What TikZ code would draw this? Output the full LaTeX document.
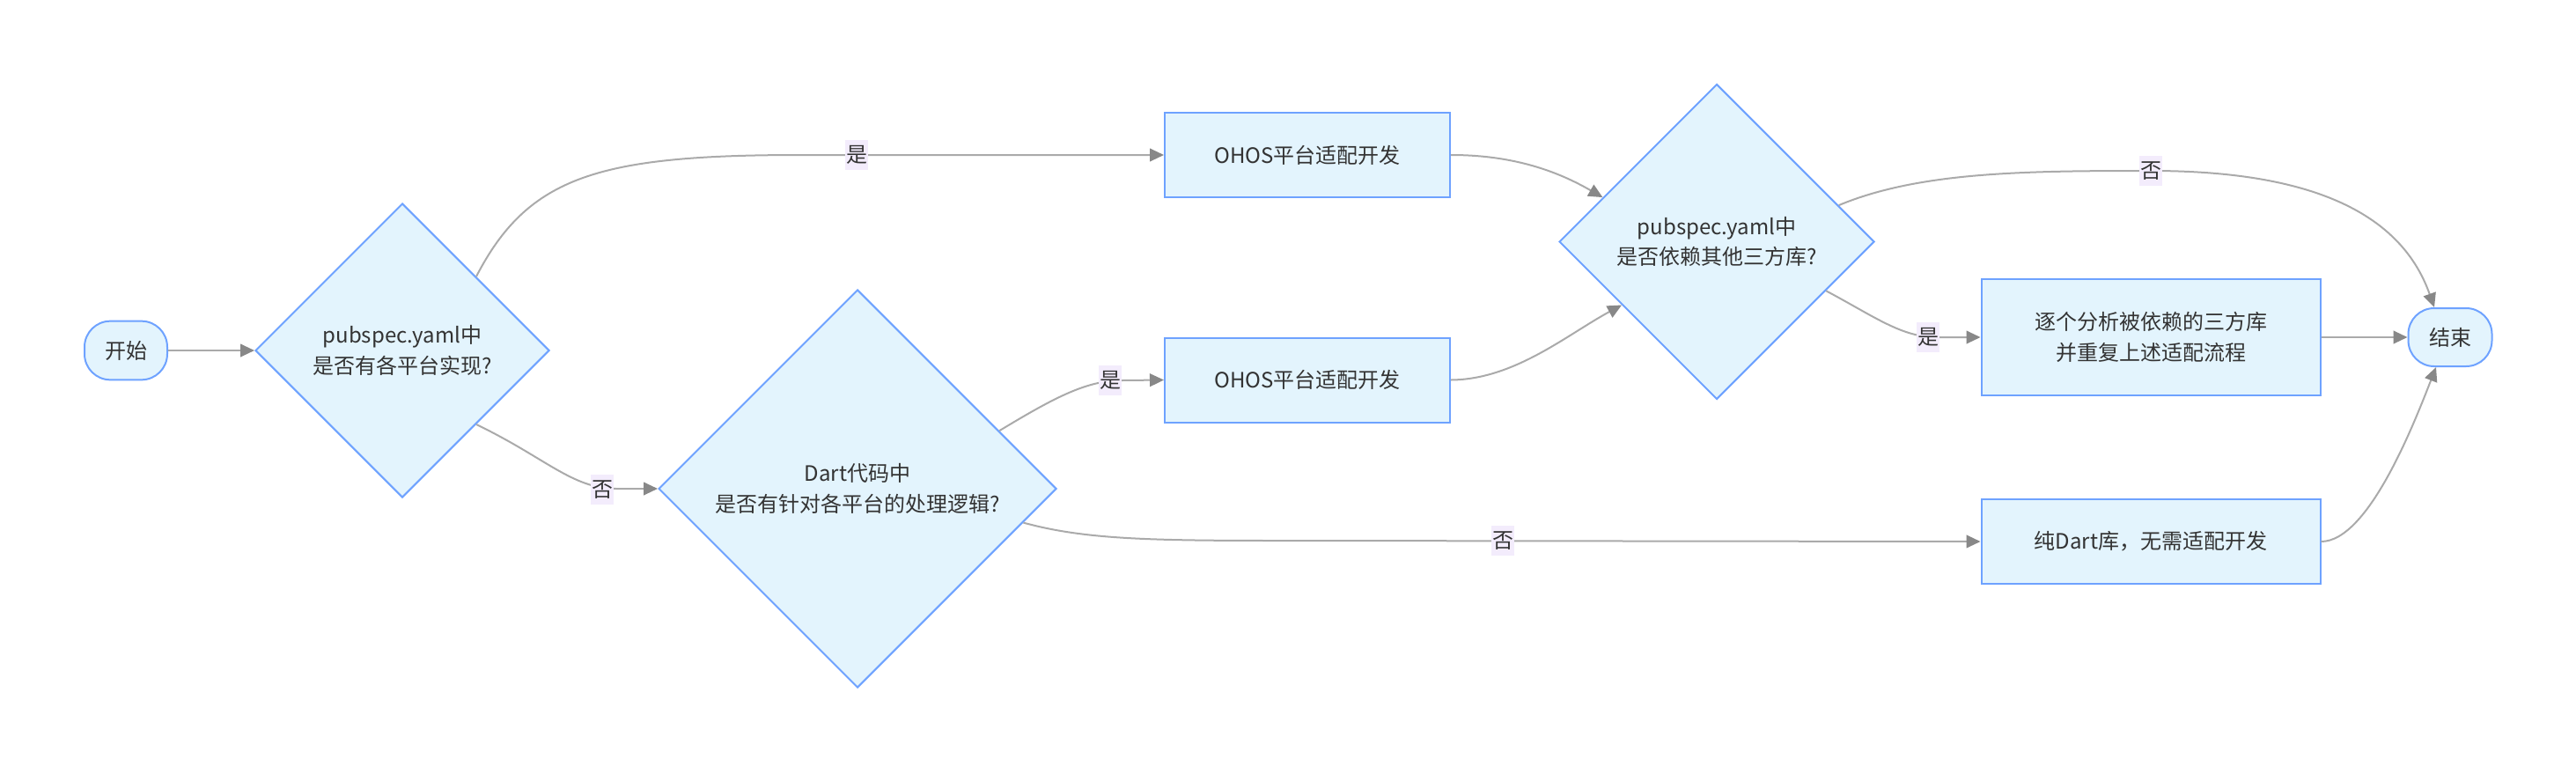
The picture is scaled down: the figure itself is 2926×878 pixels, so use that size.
\documentclass[tikz,border=0pt]{standalone}
\usepackage{fontspec}
\setmainfont{Noto Sans CJK SC}
\usetikzlibrary{shapes.geometric,arrows.meta,calc}
\definecolor{nodefill}{RGB}{227,244,253}
\definecolor{nodedraw}{RGB}{110,162,255}
\definecolor{edgecol}{RGB}{170,170,170}
\definecolor{lblfill}{RGB}{243,236,252}
\definecolor{txt}{RGB}{51,51,51}
\begin{document}
\begin{tikzpicture}[x=0.75pt,y=-0.75pt,
  base/.style={fill=nodefill,draw=nodedraw,line width=1.5pt,text=txt,font=\fontsize{18}{26}\selectfont,align=center,inner sep=0pt},
  term/.style={base,rounded corners=22pt,minimum width=70.5pt,minimum height=50pt},
  proc/.style={base,minimum width=243pt,minimum height=72pt},
  decision/.style={base,diamond,aspect=1},
  flow/.style={draw=edgecol,line width=1.5pt,-{Triangle[length=12pt,width=11pt,fill=edgecol!80!black,color=edgecol!80!black]}},
  lbl/.style={fill=lblfill,text=txt,font=\fontsize{18}{22}\selectfont,inner xsep=1pt,inner ysep=5pt}
]
\useasboundingbox (0,0) rectangle (2926,878);
% nodes
\node[term] (start) at (143,398) {开始};
\node[decision,minimum width=250.5pt,minimum height=250.5pt] (d1) at (457,398) {pubspec.yaml中\\是否有各平台实现?};
\node[decision,minimum width=339pt,minimum height=339pt] (d2) at (974,555) {Dart代码中\\是否有针对各平台的处理逻辑?};
\node[proc] (b1) at (1485,176) {OHOS平台适配开发};
\node[proc] (b2) at (1485,431.5) {OHOS平台适配开发};
\node[decision,minimum width=268.5pt,minimum height=268.5pt] (d3) at (1950,274.5) {pubspec.yaml中\\是否依赖其他三方库?};
\node[proc,minimum width=288.75pt,minimum height=99pt] (b3) at (2443,383) {逐个分析被依赖的三方库\\并重复上述适配流程};
\node[proc,minimum width=288.75pt] (b4) at (2443,615) {纯Dart库，无需适配开发};
\node[term,minimum width=71.25pt,minimum height=49.5pt] (end) at (2783,383) {结束};
% anchor points
\coordinate (d2a) at ($(d2.east)!0.29!(d2.north)$);
\coordinate (d2b) at ($(d2.east)!0.17!(d2.south)$);
\coordinate (d3in1) at ($(d3.west)!0.28!(d3.north)$);
\coordinate (d3in2) at ($(d3.west)!0.40!(d3.south)$);
\coordinate (d3a) at ($(d3.east)!0.23!(d3.north)$);
\coordinate (d3b) at ($(d3.east)!0.31!(d3.south)$);
\coordinate (endtop) at ($(end.north)+(-18,0)$);
\coordinate (endbot) at ($(end.south)+(-16,0)$);
% edges
\draw[flow] (start.east) -- (d1.west);
\draw[flow] (d1.north east) .. controls (600,200) and (680,176) .. (910,176) -- (b1.west);
\draw[flow] (d1.south east) .. controls (620,520) and (650,555) .. (700,555) -- (d2.west);
\draw[flow] (d2a) .. controls (1200,450) and (1235,432) .. (1275,432) -- (b2.west);
\draw[flow] (d2b) .. controls (1230,612) and (1300,614) .. (1450,614) -- (b4.west);
\draw[flow] (b1.east) .. controls (1720,176) and (1770,195) .. (d3in1);
\draw[flow] (b2.east) .. controls (1720,431) and (1780,380) .. (d3in2);
\draw[flow] (d3a) .. controls (2180,195) and (2300,194) .. (2443,194) .. controls (2640,194) and (2730,250) .. (endtop);
\draw[flow] (d3b) .. controls (2130,360) and (2160,383) .. (2200,383) -- (b3.west);
\draw[flow] (b3.east) -- (end.west);
\draw[flow] (b4.east) .. controls (2690,615) and (2742,481) .. (endbot);
% labels
\node[lbl] (l1) at (973,176) {是};
\node[lbl] (l2) at (684,556) {否};
\node[lbl] (l3) at (1261,432) {是};
\node[lbl] (l4) at (1707,614) {否};
\node[lbl] (l5) at (2443,194) {否};
\node[lbl] (l6) at (2190,383) {是};
\end{tikzpicture}
\end{document}
